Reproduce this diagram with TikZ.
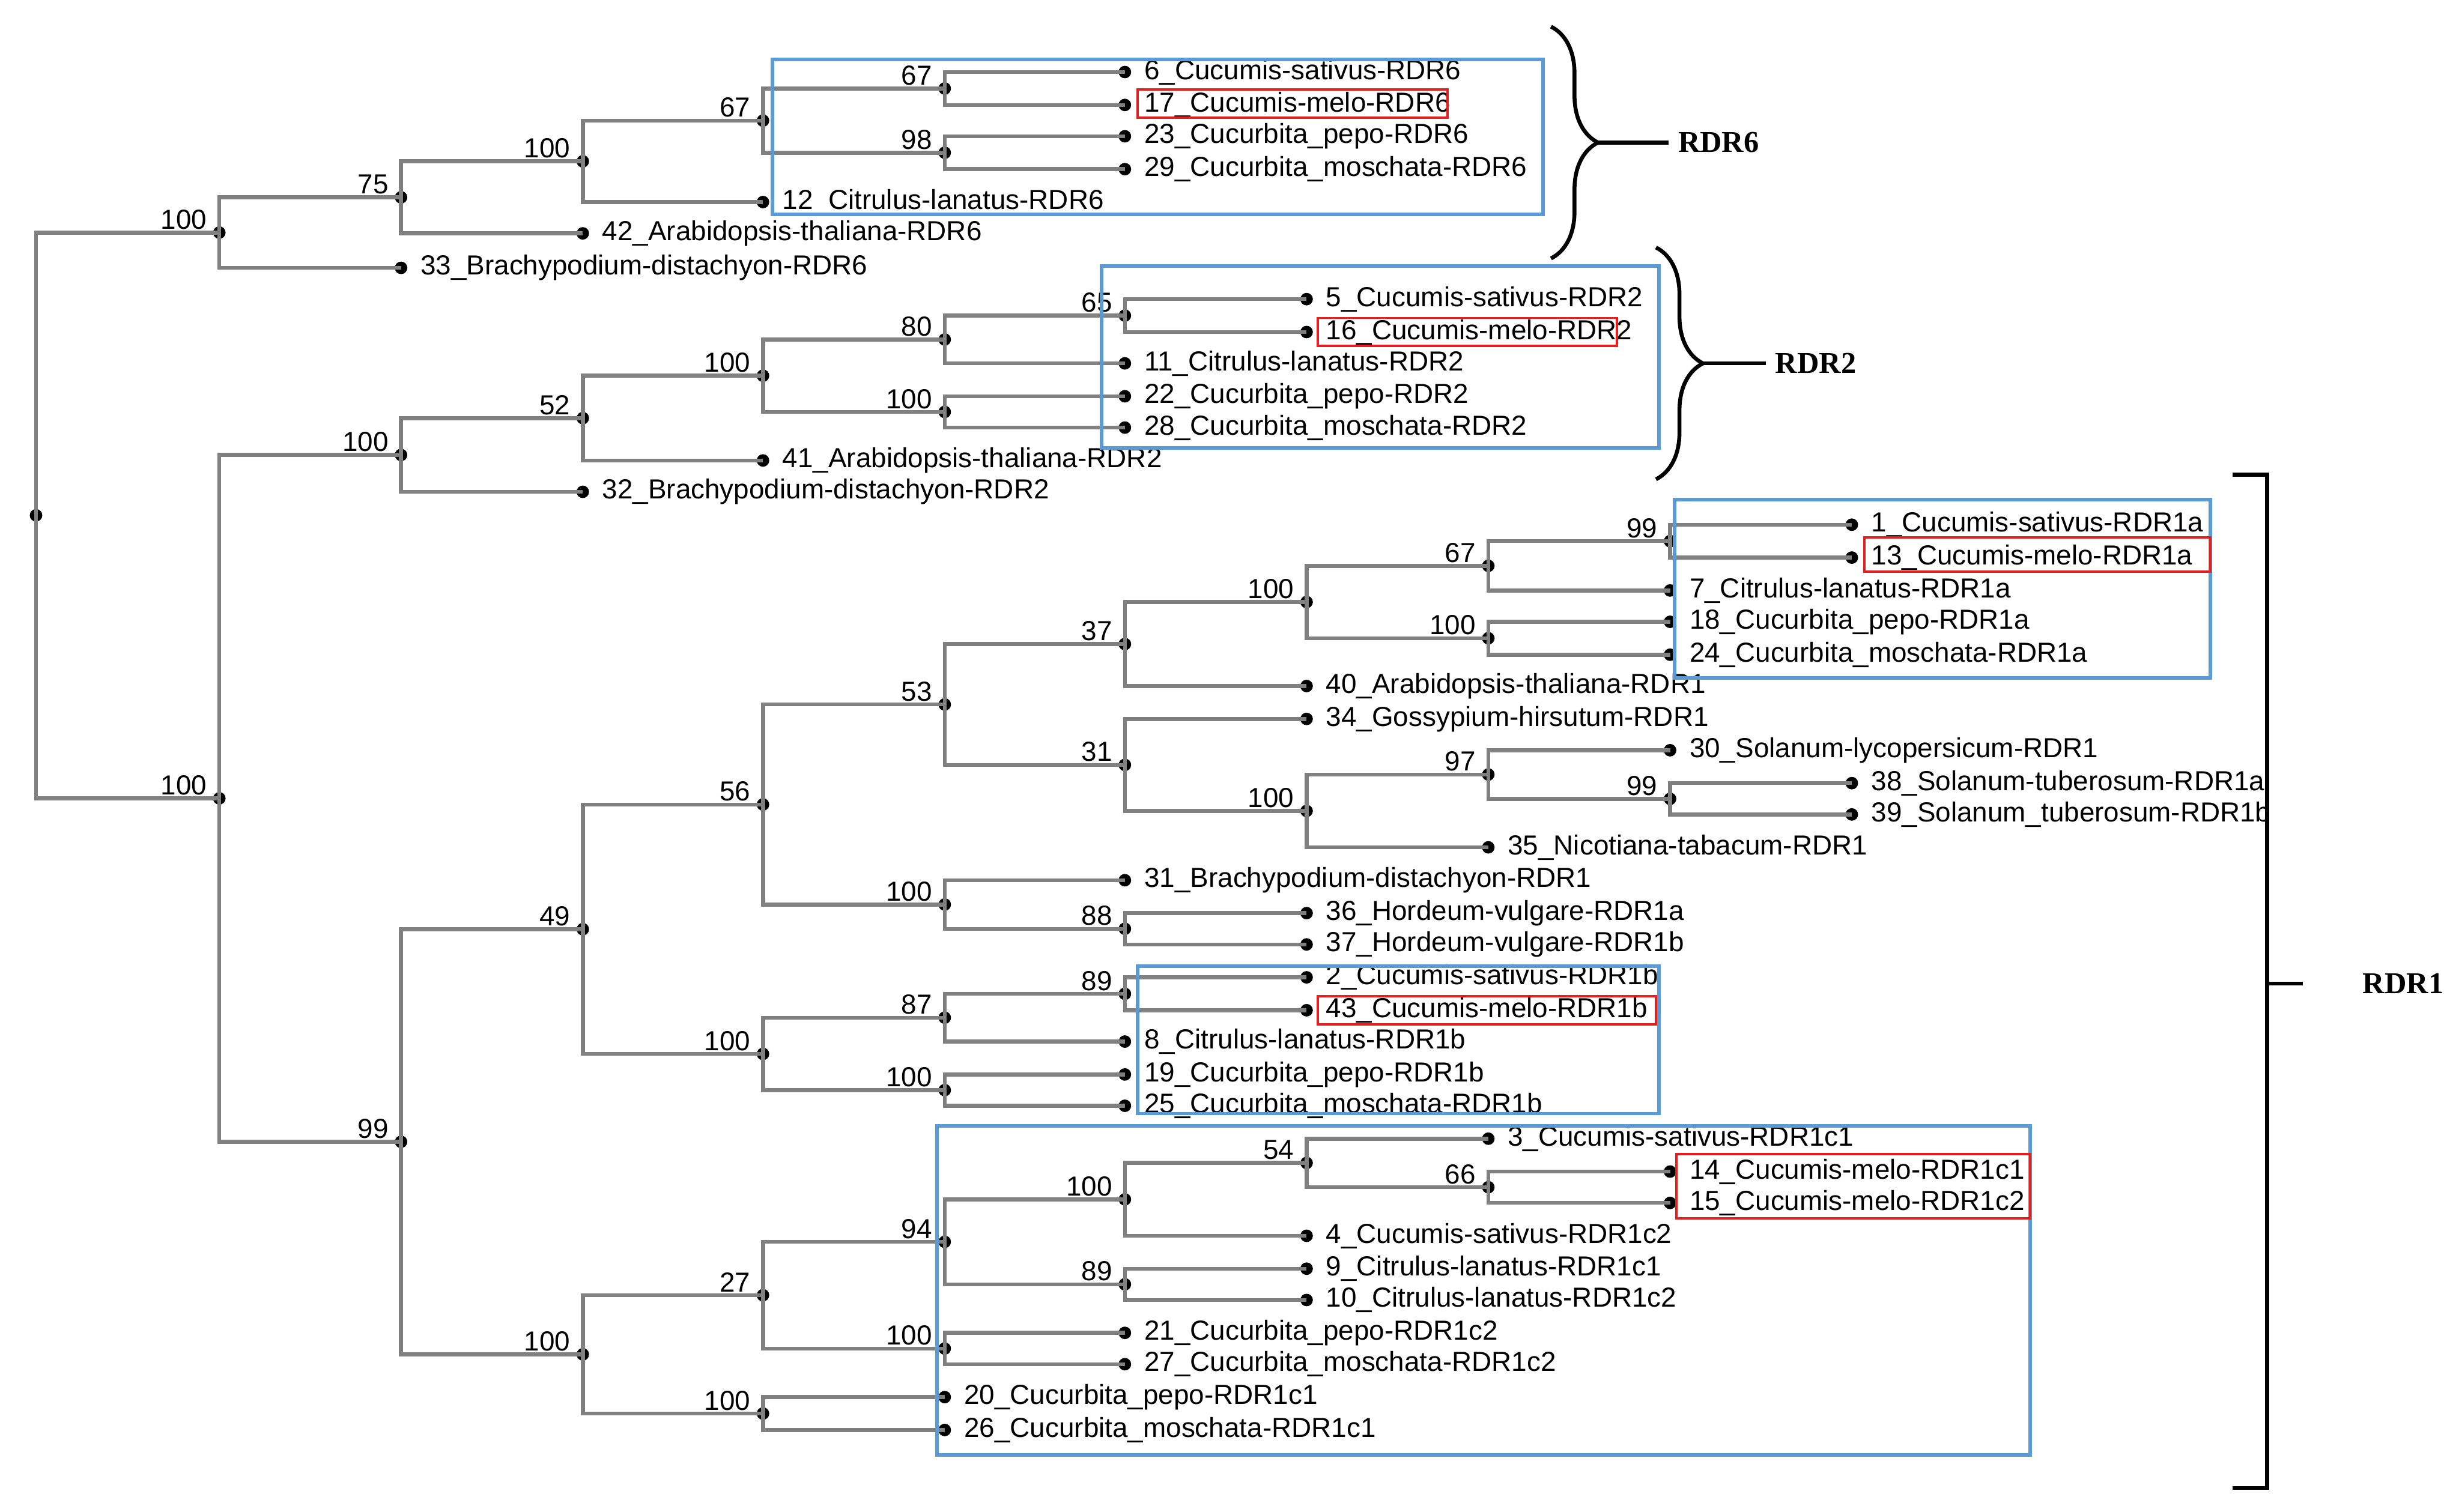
\documentclass[tikz,border=0pt]{standalone}
\usepackage{fontspec}
\setmainfont{Liberation Sans}
\newfontfamily\rdrfont{Liberation Serif}
\usepackage{xcolor}
\usepackage{tikz}
\usetikzlibrary{positioning,calc,decorations.pathreplacing}

\definecolor{branchgray}{RGB}{128,128,128}
\definecolor{boxblue}{RGB}{91,155,213}
\definecolor{boxred}{RGB}{230,30,30}

\tikzset{
  dot/.style={circle, fill=black, inner sep=0pt, minimum size=1.6mm},
  branch/.style={draw=branchgray, line width=0.5mm},
  boot/.style={anchor=south east, font=\fontsize{10}{11}\selectfont, inner sep=1pt, xshift=-1.2mm},
  leaftext/.style={font=\fontsize{10}{11}\selectfont, inner sep=1pt},
  groupbox/.style={draw=boxblue, line width=0.45mm},
  genebox/.style={draw=boxred, line width=0.3mm},
  grouplabel/.style={font=\rdrfont\bfseries\fontsize{11}{12}\selectfont}
}

% leaf: name, x, y, text
\newcommand{\leaf}[4]{\node[dot, label={[leaftext, label distance=1.2mm]right:#4}] (#1) at (#2,#3) {};}
% clade: name, x, child a, child b, support
\newcommand{\clade}[5]{%
  \coordinate (#1m) at ($(#3)!.5!(#4)$);
  \coordinate (#1x) at (#2,0);
  \node[dot] (#1) at (#1m -| #1x) {};
  \draw[branch] (#1.center) |- (#3.center);
  \draw[branch] (#1.center) |- (#4.center);
  \node[boot] at (#1.center) {#5};}

\begin{document}
\begin{tikzpicture}[x=0.2mm, y=-0.2mm]
    \useasboundingbox (0,0) rectangle (1560,965);

    % RDR6 leaves
    \leaf{l6}{718}{46}{6\_Cucumis-sativus-RDR6}
    \leaf{l17}{718}{67}{17\_Cucumis-melo-RDR6}
    \leaf{l23}{718}{87}{23\_Cucurbita\_pepo-RDR6}
    \leaf{l29}{718}{108}{29\_Cucurbita\_moschata-RDR6}
    \leaf{l12}{487}{129}{12\_Citrulus-lanatus-RDR6}
    \leaf{l42}{372}{149}{42\_Arabidopsis-thaliana-RDR6}
    \leaf{l33}{256}{171}{33\_Brachypodium-distachyon-RDR6}

    % RDR2 leaves
    \leaf{l5}{834}{191}{5\_Cucumis-sativus-RDR2}
    \leaf{l16}{834}{212}{16\_Cucumis-melo-RDR2}
    \leaf{l11}{718}{232}{11\_Citrulus-lanatus-RDR2}
    \leaf{l22}{718}{253}{22\_Cucurbita\_pepo-RDR2}
    \leaf{l28}{718}{273}{28\_Cucurbita\_moschata-RDR2}
    \leaf{l41}{487}{294}{41\_Arabidopsis-thaliana-RDR2}
    \leaf{l32}{372}{314}{32\_Brachypodium-distachyon-RDR2}

    % RDR1 leaves
    \leaf{l1}{1182}{335}{1\_Cucumis-sativus-RDR1a}
    \leaf{l13}{1182}{356}{13\_Cucumis-melo-RDR1a}
    \leaf{l7}{1066}{377}{7\_Citrulus-lanatus-RDR1a}
    \leaf{l18}{1066}{397}{18\_Cucurbita\_pepo-RDR1a}
    \leaf{l24}{1066}{418}{24\_Cucurbita\_moschata-RDR1a}
    \leaf{l40}{834}{438}{40\_Arabidopsis-thaliana-RDR1}
    \leaf{l34}{834}{459}{34\_Gossypium-hirsutum-RDR1}
    \leaf{l30}{1066}{479}{30\_Solanum-lycopersicum-RDR1}
    \leaf{l38}{1182}{500}{38\_Solanum-tuberosum-RDR1a}
    \leaf{l39}{1182}{520}{39\_Solanum\_tuberosum-RDR1b}
    \leaf{l35}{950}{541}{35\_Nicotiana-tabacum-RDR1}
    \leaf{l31}{718}{562}{31\_Brachypodium-distachyon-RDR1}
    \leaf{l36}{834}{583}{36\_Hordeum-vulgare-RDR1a}
    \leaf{l37}{834}{603}{37\_Hordeum-vulgare-RDR1b}
    \leaf{l2}{834}{624}{2\_Cucumis-sativus-RDR1b}
    \leaf{l43}{834}{645}{43\_Cucumis-melo-RDR1b}
    \leaf{l8}{718}{665}{8\_Citrulus-lanatus-RDR1b}
    \leaf{l19}{718}{686}{19\_Cucurbita\_pepo-RDR1b}
    \leaf{l25}{718}{706}{25\_Cucurbita\_moschata-RDR1b}
    \leaf{l3}{950}{727}{3\_Cucumis-sativus-RDR1c1}
    \leaf{l14}{1066}{748}{14\_Cucumis-melo-RDR1c1}
    \leaf{l15}{1066}{768}{15\_Cucumis-melo-RDR1c2}
    \leaf{l4}{834}{789}{4\_Cucumis-sativus-RDR1c2}
    \leaf{l9}{834}{810}{9\_Citrulus-lanatus-RDR1c1}
    \leaf{l10}{834}{830}{10\_Citrulus-lanatus-RDR1c2}
    \leaf{l21}{718}{851}{21\_Cucurbita\_pepo-RDR1c2}
    \leaf{l27}{718}{871}{27\_Cucurbita\_moschata-RDR1c2}
    \leaf{l20}{603}{892}{20\_Cucurbita\_pepo-RDR1c1}
    \leaf{l26}{603}{913}{26\_Cucurbita\_moschata-RDR1c1}

    % RDR6 clade
    \clade{a4}{603}{l6}{l17}{67}
    \clade{a5}{603}{l23}{l29}{98}
    \clade{a3}{487}{a4}{a5}{67}
    \clade{a2}{372}{a3}{l12}{100}
    \clade{a1}{256}{a2}{l42}{75}
    \clade{a0}{140}{a1}{l33}{100}

    % RDR2 clade
    \clade{b6}{718}{l5}{l16}{65}
    \clade{b4}{603}{b6}{l11}{80}
    \clade{b5}{603}{l22}{l28}{100}
    \clade{b3}{487}{b4}{b5}{100}
    \clade{b2}{372}{b3}{l41}{52}
    \clade{b1}{256}{b2}{l32}{100}

    % RDR1 clade
    \clade{c11}{1066}{l1}{l13}{99}
    \clade{c9}{950}{c11}{l7}{67}
    \clade{c10}{950}{l18}{l24}{100}
    \clade{c8}{834}{c9}{c10}{100}
    \clade{c6}{718}{c8}{l40}{37}
    \clade{c14}{1066}{l38}{l39}{99}
    \clade{c13}{950}{l30}{c14}{97}
    \clade{c12}{834}{c13}{l35}{100}
    \clade{c7}{718}{l34}{c12}{31}
    \clade{c4}{603}{c6}{c7}{53}
    \clade{c15}{718}{l36}{l37}{88}
    \clade{c5}{603}{l31}{c15}{100}
    \clade{c2}{487}{c4}{c5}{56}
    \clade{c18}{718}{l2}{l43}{89}
    \clade{c16}{603}{c18}{l8}{87}
    \clade{c17}{603}{l19}{l25}{100}
    \clade{c3}{487}{c16}{c17}{100}
    \clade{c1}{372}{c2}{c3}{49}
    \clade{d8}{950}{l14}{l15}{66}
    \clade{d7}{834}{l3}{d8}{54}
    \clade{d5}{718}{d7}{l4}{100}
    \clade{d6}{718}{l9}{l10}{89}
    \clade{d3}{603}{d5}{d6}{94}
    \clade{d4}{603}{l21}{l27}{100}
    \clade{d1}{487}{d3}{d4}{27}
    \clade{d2}{487}{l20}{l26}{100}
    \clade{d0}{372}{d1}{d2}{100}
    \clade{c0}{256}{c1}{d0}{99}
    \clade{b0}{140}{b1}{c0}{100}

    % root
    \node[dot] (root) at (23,329) {};
    \draw[branch] (root.center) |- (a0.center);
    \draw[branch] (root.center) |- (b0.center);

    % blue group boxes
    \draw[groupbox] (493,38) rectangle (985,137);
    \draw[groupbox] (703,170) rectangle (1059,286);
    \draw[groupbox] (1069,319) rectangle (1411,433);
    \draw[groupbox] (726,617) rectangle (1059,711);
    \draw[groupbox] (598,719) rectangle (1296,929);

    % red melon boxes
    \draw[genebox] (726,57) rectangle (924,75);
    \draw[genebox] (841,203) rectangle (1032,221);
    \draw[genebox] (1190,343) rectangle (1411,365);
    \draw[genebox] (841,636) rectangle (1057,654);
    \draw[genebox] (1070,737) rectangle (1296,778);

    % braces and group names
    \draw[line width=0.5mm, decorate, decoration={brace, amplitude=6mm}] (990,17) -- (990,165);
    \node[grouplabel, anchor=west] (rdr6) at (1065,91) {RDR6};
    \draw[line width=0.5mm] (1020,91) -- (rdr6.west);
    \draw[line width=0.5mm, decorate, decoration={brace, amplitude=6mm}] (1057,158) -- (1057,306);
    \node[grouplabel, anchor=west] (rdr2) at (1127,232) {RDR2};
    \draw[line width=0.5mm] (1087,232) -- (rdr2.west);
    \draw[line width=0.5mm] (1425,303) -- (1447,303) -- (1447,950) -- (1425,950);
    \node[grouplabel, anchor=west] (rdr1) at (1502,628) {RDR1};
    \draw[line width=0.5mm] (1447,628) -- (1470,628);
\end{tikzpicture}
\end{document}
